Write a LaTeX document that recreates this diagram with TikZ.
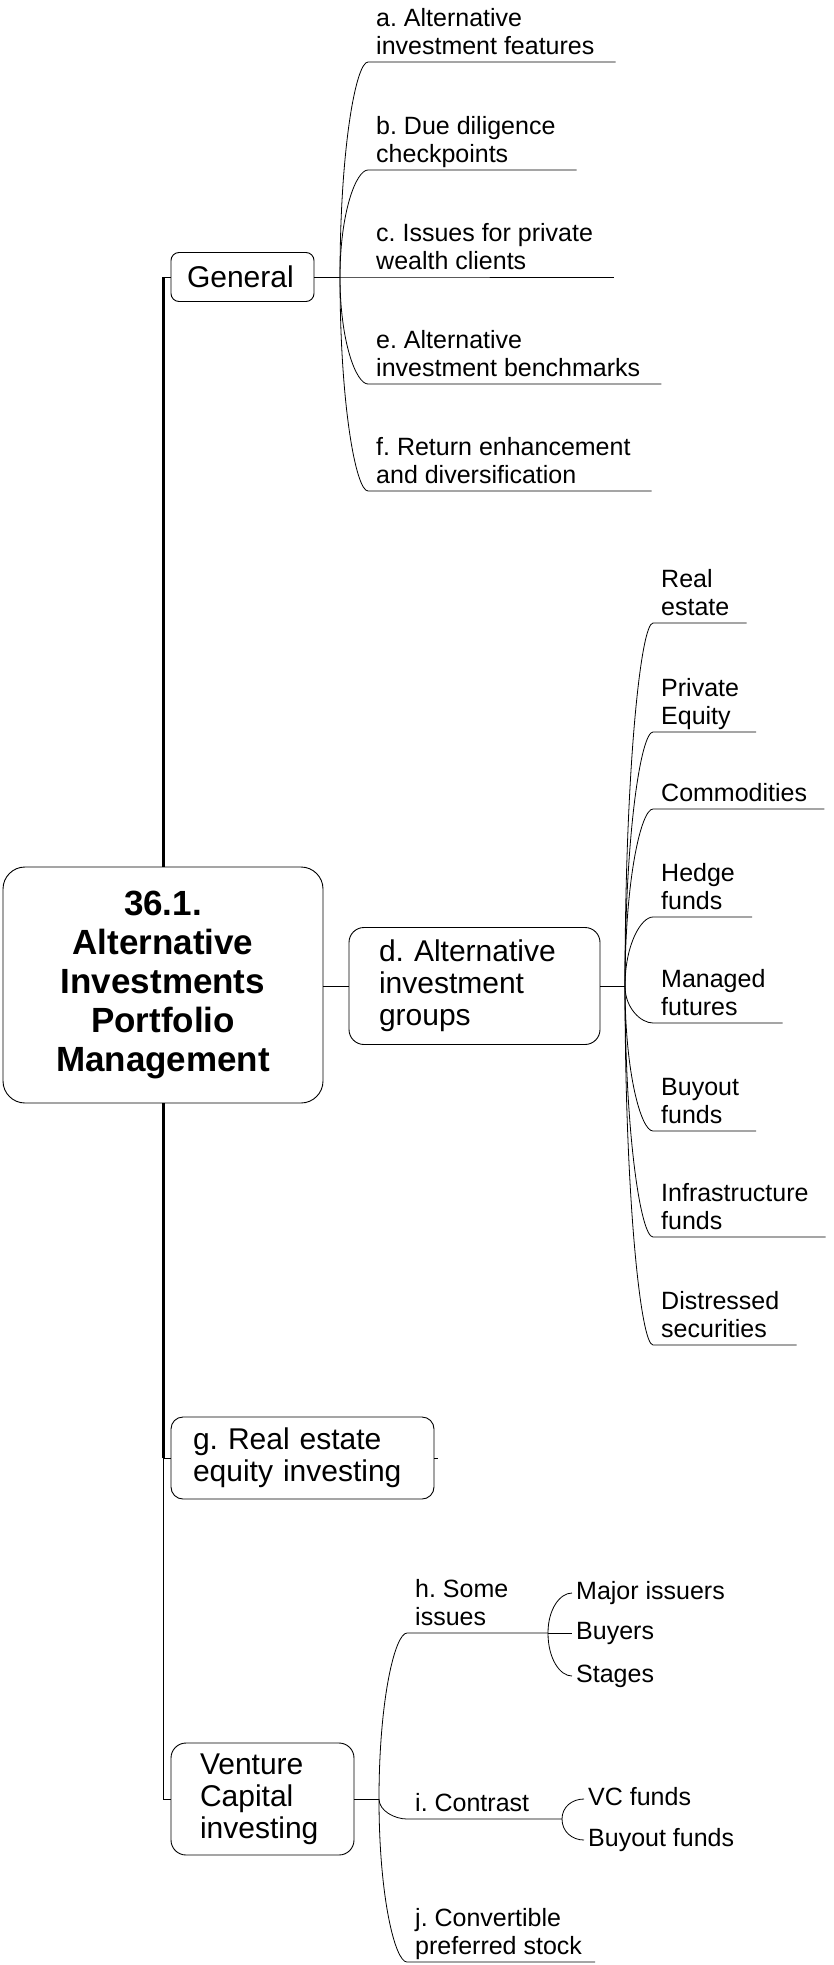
\documentclass[tikz,border=0pt]{standalone}
\usepackage{fontspec}
\setmainfont{Liberation Sans}
\usetikzlibrary{calc}
\frenchspacing

\newcommand{\rootfont}{\fontsize{35}{39}\selectfont\bfseries}
\newcommand{\boxfont}{\fontsize{30}{32}\selectfont}
\newcommand{\leaffont}{\fontsize{25}{28}\selectfont}
\newcommand{\tailstrut}{\rule[-7pt]{0pt}{7pt}}

\tikzset{
  thinlink/.style={line width=0.8pt},
  spineline/.style={line width=3pt},
  topicbox/.style={draw, line width=0.9pt, fill=white, align=left, font=\boxfont, inner ysep=3pt},
  leaftext/.style={anchor=south west, inner xsep=8pt, inner ysep=0pt, align=left, font=\leaffont, execute at end node=\tailstrut},
  endtext/.style={anchor=west, inner xsep=4pt, inner ysep=0pt, font=\leaffont, text height=18pt, text depth=5pt},
  forkcurve/.style={to path={.. controls ($(\tikztostart)!0.6!(\tikztostart|-\tikztotarget)$) and ($(\tikztotarget)+(-12pt,0)$) .. (\tikztotarget)}}
}

\begin{document}
\begin{tikzpicture}[x=1pt, y=-1pt]
    \useasboundingbox (0,0) rectangle (833,1965);

    \node[topicbox, rounded corners=22pt, font=\rootfont, align=center, minimum width=320pt, minimum height=236pt] (Root) at (163,985) {36.1.\\Alternative\\Investments\\Portfolio\\Management};
    \node[topicbox, rounded corners=8pt, inner xsep=16pt, text width=111pt, minimum height=49pt] (General) at (242.5,277) {General};
    \node[topicbox, rounded corners=15pt, inner xsep=30pt, text width=191pt, minimum height=117pt] (Groups) at (474.5,986) {d. Alternative\\investment\\groups};
    \node[topicbox, rounded corners=12pt, inner xsep=22pt, text width=219pt, minimum height=82pt] (REI) at (302.5,1458) {g. Real estate\\equity investing};
    \node[topicbox, rounded corners=15pt, inner xsep=29pt, text width=125pt, minimum height=112pt] (VC) at (262.5,1799) {Venture\\Capital\\investing};

    \coordinate (GenFork) at (340,277);
    \coordinate (GrpFork) at (625,986);
    \coordinate (VCFork) at (379,1799);
    \coordinate (IssFork) at (548,1633);
    \coordinate (ConFork) at (562,1819);
    \coordinate (REIStub) at (438,1458);

    \node[leaftext] (FeatA) at (368,62) {a. Alternative\\investment features};
    \node[leaftext] (DueB) at (368,170) {b. Due diligence\\checkpoints};
    \node[leaftext] (IssC) at (368,277) {c. Issues for private\\wealth clients};
    \node[leaftext] (BenchE) at (368,384) {e. Alternative\\investment benchmarks};
    \node[leaftext] (RetF) at (368,491) {f. Return enhancement\\and diversification};

    \node[leaftext] (RealEst) at (653,623) {Real\\estate};
    \node[leaftext] (PrivEq) at (653,732) {Private\\Equity};
    \node[leaftext] (Commod) at (653,809) {Commodities};
    \node[leaftext] (Hedge) at (653,917) {Hedge\\funds};
    \node[leaftext] (ManFut) at (653,1023) {Managed\\futures};
    \node[leaftext] (Buyout) at (653,1131) {Buyout\\funds};
    \node[leaftext] (Infra) at (653,1237) {Infrastructure\\funds};
    \node[leaftext] (Distr) at (653,1345) {Distressed\\securities};

    \node[leaftext] (SomeH) at (407,1633) {h. Some\\issues};
    \node[leaftext] (ContrI) at (407,1819) {i. Contrast};
    \node[leaftext] (ConvJ) at (407,1962) {j. Convertible\\preferred stock};

    \node[endtext] (Major) at (572,1593) {Major issuers};
    \node[endtext] (Buyers) at (572,1633) {Buyers};
    \node[endtext] (Stages) at (572,1676) {Stages};
    \node[endtext] (VCFunds) at (584,1799) {VC funds};
    \node[endtext] (BOFunds) at (584,1840) {Buyout funds};

    % spine
    \draw[thinlink] (General.west) -- (General.west -| Root.north);
    \draw[spineline] (General.west -| Root.north) -- (Root.north);
    \draw[spineline] (Root.south) -- (Root.south |- REI.west);
    \draw[thinlink] (Root.south |- REI.west) -- (REI.west);
    \draw[thinlink] (Root.south |- REI.west) -- (Root.south |- VC.west) -- (VC.west);
    \draw[thinlink] (REI.east) -- (REIStub);
    \draw[thinlink] (Root.east |- Groups.west) -- (Groups.west);

    % General
    \draw[thinlink] (General.east) -- (GenFork);
    \draw[thinlink] (GenFork) to[forkcurve] (FeatA.south west) -- ([xshift=13pt]FeatA.south east);
    \draw[thinlink] (GenFork) to[forkcurve] (DueB.south west) -- ([xshift=13pt]DueB.south east);
    \draw[thinlink] (GenFork) -- (IssC.south west) -- ([xshift=13pt]IssC.south east);
    \draw[thinlink] (GenFork) to[forkcurve] (BenchE.south west) -- ([xshift=13pt]BenchE.south east);
    \draw[thinlink] (GenFork) to[forkcurve] (RetF.south west) -- ([xshift=13pt]RetF.south east);

    % d. groups
    \draw[thinlink] (Groups.east) -- (GrpFork);
    \draw[thinlink] (GrpFork) to[forkcurve] (RealEst.south west) -- ([xshift=9pt]RealEst.south east);
    \draw[thinlink] (GrpFork) to[forkcurve] (PrivEq.south west) -- ([xshift=9pt]PrivEq.south east);
    \draw[thinlink] (GrpFork) to[forkcurve] (Commod.south west) -- ([xshift=9pt]Commod.south east);
    \draw[thinlink] (GrpFork) to[forkcurve] (Hedge.south west) -- ([xshift=9pt]Hedge.south east);
    \draw[thinlink] (GrpFork) to[forkcurve] (ManFut.south west) -- ([xshift=9pt]ManFut.south east);
    \draw[thinlink] (GrpFork) to[forkcurve] (Buyout.south west) -- ([xshift=9pt]Buyout.south east);
    \draw[thinlink] (GrpFork) to[forkcurve] (Infra.south west) -- ([xshift=9pt]Infra.south east);
    \draw[thinlink] (GrpFork) to[forkcurve] (Distr.south west) -- ([xshift=9pt]Distr.south east);

    % venture capital
    \draw[thinlink] (VC.east) -- (VCFork);
    \draw[thinlink] (VCFork) to[forkcurve] (SomeH.south west) -- (IssFork);
    \draw[thinlink] (VCFork) to[forkcurve] (ContrI.south west) -- (ConFork);
    \draw[thinlink] (VCFork) to[forkcurve] (ConvJ.south west) -- ([xshift=5pt]ConvJ.south east);

    \draw[thinlink] (IssFork) to[forkcurve] (Major.west);
    \draw[thinlink] (IssFork) -- (Buyers.west);
    \draw[thinlink] (IssFork) to[forkcurve] (Stages.west);
    \draw[thinlink] (ConFork) to[forkcurve] (VCFunds.west);
    \draw[thinlink] (ConFork) to[forkcurve] (BOFunds.west);

\end{tikzpicture}
\end{document}
